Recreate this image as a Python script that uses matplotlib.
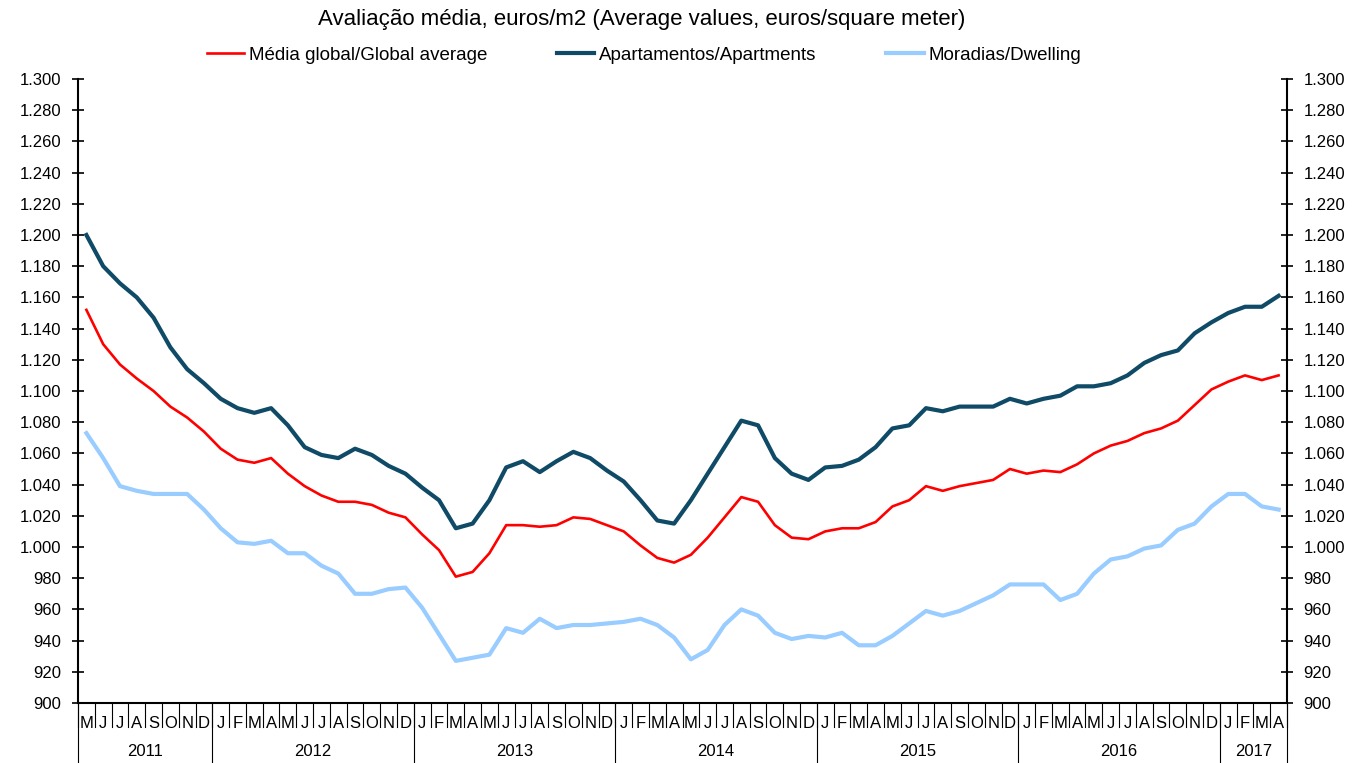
import matplotlib
matplotlib.use('Agg')
import matplotlib.pyplot as plt
import matplotlib.ticker as mticker
import numpy as np

plt.rcParams['font.family'] = ['Liberation Sans', 'DejaVu Sans']

# monthly series, May 2011 .. Apr 2017
global_avg = [1152, 1130, 1117, 1108, 1100, 1090, 1083, 1074,
              1063, 1056, 1054, 1057, 1047, 1039, 1033, 1029, 1029, 1027, 1022, 1019,
              1008, 998, 981, 984, 996, 1014, 1014, 1013, 1014, 1019, 1018, 1014,
              1010, 1001, 993, 990, 995, 1006, 1019, 1032, 1029, 1014, 1006, 1005,
              1010, 1012, 1012, 1016, 1026, 1030, 1039, 1036, 1039, 1041, 1043, 1050,
              1047, 1049, 1048, 1053, 1060, 1065, 1068, 1073, 1076, 1081, 1091, 1101,
              1106, 1110, 1107, 1110]
apartments = [1200, 1180, 1169, 1160, 1147, 1128, 1114, 1105,
              1095, 1089, 1086, 1089, 1078, 1064, 1059, 1057, 1063, 1059, 1052, 1047,
              1038, 1030, 1012, 1015, 1030, 1051, 1055, 1048, 1055, 1061, 1057, 1049,
              1042, 1030, 1017, 1015, 1030, 1047, 1064, 1081, 1078, 1057, 1047, 1043,
              1051, 1052, 1056, 1064, 1076, 1078, 1089, 1087, 1090, 1090, 1090, 1095,
              1092, 1095, 1097, 1103, 1103, 1105, 1110, 1118, 1123, 1126, 1137, 1144,
              1150, 1154, 1154, 1161]
dwelling = [1073, 1057, 1039, 1036, 1034, 1034, 1034, 1024,
            1012, 1003, 1002, 1004, 996, 996, 988, 983, 970, 970, 973, 974,
            961, 944, 927, 929, 931, 948, 945, 954, 948, 950, 950, 951,
            952, 954, 950, 942, 928, 934, 950, 960, 956, 945, 941, 943,
            942, 945, 937, 937, 943, 951, 959, 956, 959, 964, 969, 976,
            976, 976, 966, 970, 983, 992, 994, 999, 1001, 1011, 1015, 1026,
            1034, 1034, 1026, 1024]

month_letters = ['M', 'J', 'J', 'A', 'S', 'O', 'N', 'D'] + \
    ['J', 'F', 'M', 'A', 'M', 'J', 'J', 'A', 'S', 'O', 'N', 'D'] * 5 + \
    ['J', 'F', 'M', 'A']
years = ['2011', '2012', '2013', '2014', '2015', '2016', '2017']
months_per_year = [8, 12, 12, 12, 12, 12, 4]

x = np.arange(len(global_avg))

fig = plt.figure(figsize=(13.55, 7.63), dpi=100)
ax = fig.add_axes([78/1355, 1 - 703/763, (1287 - 78)/1355, (703 - 79)/763])

ax.plot(x, global_avg, color='#ff0000', lw=1.9, label='Média global/Global average')
ax.plot(x, apartments, color='#0f4a66', lw=3.0, label='Apartamentos/Apartments')
ax.plot(x, dwelling, color='#99ccff', lw=3.0, label='Moradias/Dwelling')

ax.set_xlim(-0.5, len(x) - 0.5)
ax.set_ylim(900, 1300)
ax.set_yticks(np.arange(900, 1301, 20))
ax.yaxis.set_major_formatter(mticker.FuncFormatter(lambda v, p: f'{int(v):,}'.replace(',', '.')))
ax.tick_params(axis='y', which='both', direction='inout', length=9, width=1.2,
               labelsize=12, left=True, right=True, labelleft=True, labelright=True, pad=7.5)

ax.spines['top'].set_visible(False)
for s in ('left', 'right', 'bottom'):
    ax.spines[s].set_linewidth(1.5)

# month letters below the axis
ax.set_xticks(x)
ax.set_xticklabels(month_letters)
ax.tick_params(axis='x', length=0, labelsize=12, pad=9)

trans = ax.get_xaxis_transform()
month_depth = -(727 - 703) / 624
year_depth = -(763 - 703) / 624
for b in np.arange(-0.5, len(x), 1.0):
    ax.plot([b, b], [0, month_depth], color='black', lw=0.8, transform=trans, clip_on=False)

start = 0
edges = [-0.5]
for yr, n in zip(years, months_per_year):
    ax.text(start + n / 2 - 0.5, -(752 - 703) / 624, yr, transform=trans,
            ha='center', va='center', fontsize=12)
    start += n
    edges.append(start - 0.5)
for b in edges:
    ax.plot([b, b], [0, year_depth], color='black', lw=0.8, transform=trans, clip_on=False)

fig.text(642/1355, 1 - 20/763, 'Avaliação média, euros/m2 (Average values, euros/square meter)',
         ha='center', va='center', fontsize=16)
fig.legend(loc='center', bbox_to_anchor=(644/1355, 1 - 55/763), ncol=3, frameon=False,
           fontsize=13.5, handlelength=2.0, handletextpad=0.27, columnspacing=3.7)

fig.savefig('out.png', dpi=100)
